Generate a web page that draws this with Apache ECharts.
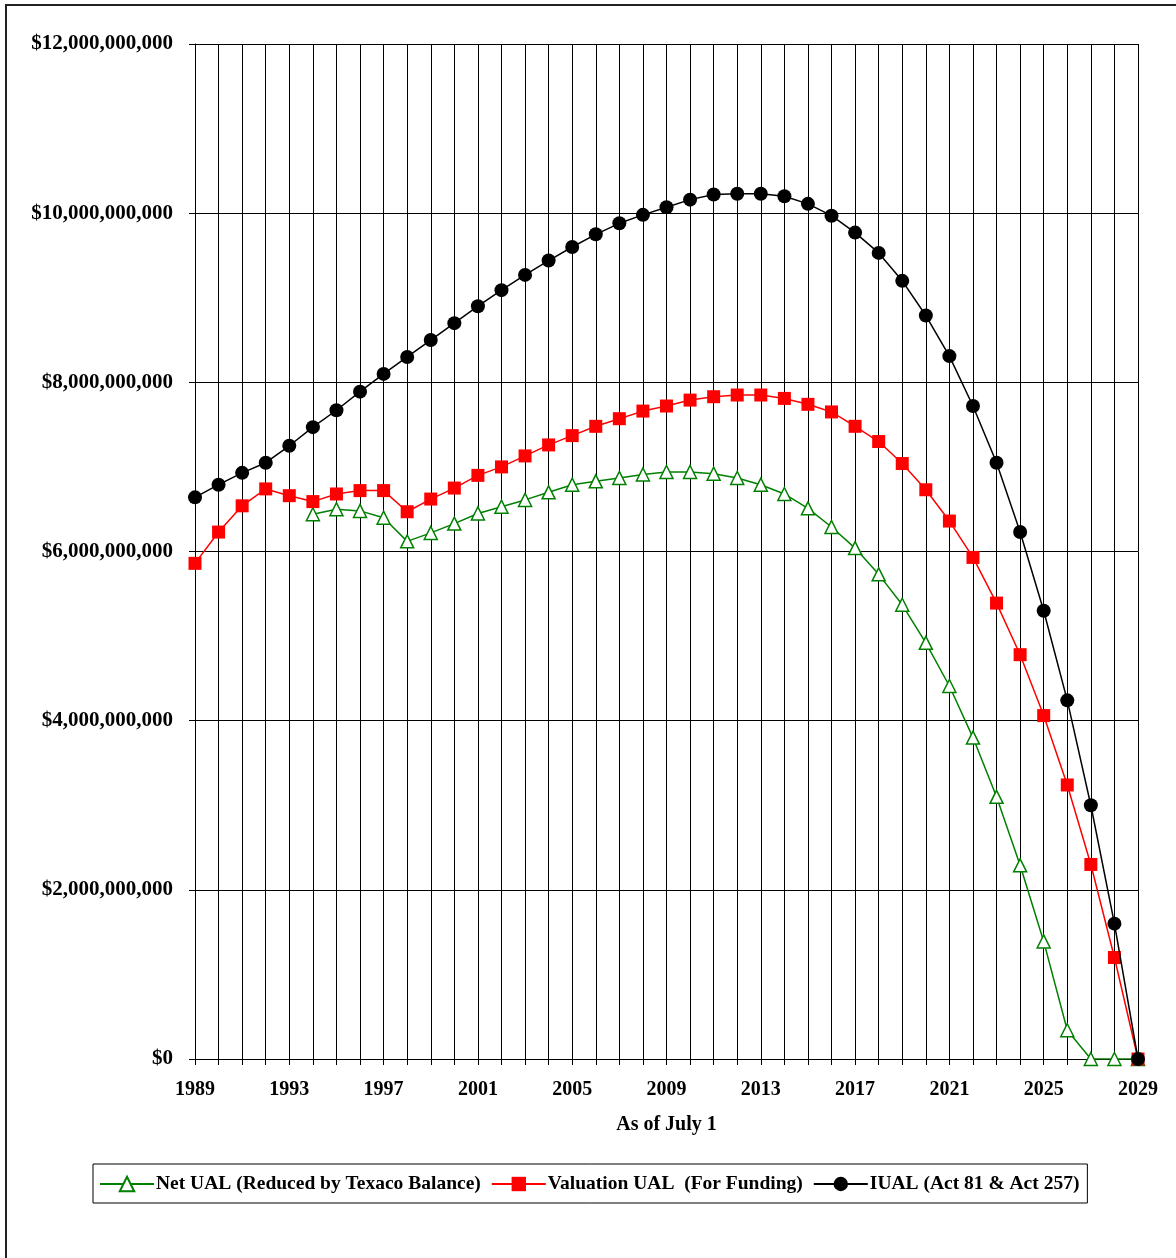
<!DOCTYPE html>
<html>
<head>
<meta charset="utf-8">
<script src="https://cdn.jsdelivr.net/npm/echarts@6/dist/echarts.min.js"></script>
<style>
html,body{margin:0;padding:0;background:#fff;}
#chart{width:1176px;height:1258px;}
</style>
</head>
<body>
<div id="chart"></div>
<script>
// Years (x categories)
const years = [];
for (let y = 1989; y <= 2029; y++) years.push(String(y));

// Values in billions of dollars
const netUAL = [null, null, null, null, null,
  6.44, 6.50, 6.48, 6.40, 6.12, 6.22, 6.33, 6.45, 6.53, 6.61,
  6.70, 6.79, 6.83, 6.87, 6.91, 6.94, 6.94, 6.92, 6.87, 6.79,
  6.68, 6.51, 6.29, 6.04, 5.73, 5.37, 4.92, 4.41, 3.80, 3.10,
  2.29, 1.39, 0.34, 0, 0, 0];
const valuationUAL = [5.86, 6.23, 6.54, 6.74, 6.66, 6.59, 6.68, 6.72, 6.72, 6.47,
  6.62, 6.75, 6.90, 7.00, 7.13, 7.26, 7.37, 7.48, 7.57, 7.66,
  7.72, 7.79, 7.83, 7.85, 7.85, 7.81, 7.74, 7.65, 7.48, 7.30,
  7.04, 6.73, 6.36, 5.93, 5.39, 4.78, 4.06, 3.24, 2.30, 1.20, 0];
const iual = [6.64, 6.79, 6.93, 7.05, 7.25, 7.47, 7.67, 7.89, 8.10, 8.30,
  8.50, 8.70, 8.90, 9.09, 9.27, 9.44, 9.60, 9.75, 9.88, 9.98,
  10.07, 10.16, 10.22, 10.23, 10.23, 10.20, 10.11, 9.97, 9.77, 9.53,
  9.20, 8.79, 8.31, 7.72, 7.05, 6.23, 5.30, 4.24, 3.00, 1.60, 0];

const seriesNames = ['Net UAL (Reduced by Texaco Balance)', 'Valuation UAL  (For Funding)', 'IUAL (Act 81 & Act 257)'];
const xAxisTitle = 'As of July 1';

const toDollars = arr => arr.map(v => v === null ? null : v * 1e9);
const fmtDollar = v => '$' + Math.round(v).toString().replace(/\B(?=(\d{3})+(?!\d))/g, ',');

const FONT = '"Liberation Serif", "Times New Roman", serif';
const chart = echarts.init(document.getElementById('chart'));
chart.setOption({
  animation: false,
  backgroundColor: '#fff',
  textStyle: { fontFamily: FONT },
  grid: { left: 195, right: 38, top: 44, bottom: 199, containLabel: false },
  xAxis: {
    type: 'category',
    data: years,
    boundaryGap: false,
    name: xAxisTitle,
    nameLocation: 'middle',
    nameGap: 56,
    nameTextStyle: { fontFamily: FONT, fontWeight: 'bold', fontSize: 20, color: '#000' },
    axisLine: { show: true, lineStyle: { color: '#000', width: 1 } },
    axisTick: { show: true, interval: 0, inside: false, length: 6, lineStyle: { color: '#000' } },
    axisLabel: { interval: 3, margin: 21, fontFamily: FONT, fontWeight: 'bold', fontSize: 20, color: '#000' },
    splitLine: { show: true, interval: 0, lineStyle: { color: '#000', width: 1 } }
  },
  yAxis: {
    type: 'value',
    min: 0,
    max: 12e9,
    interval: 2e9,
    axisLine: { show: true, lineStyle: { color: '#000', width: 1 } },
    axisTick: { show: true, length: 6, lineStyle: { color: '#000' } },
    axisLabel: { margin: 22, fontFamily: FONT, fontWeight: 'bold', fontSize: 21, color: '#000', formatter: fmtDollar },
    splitLine: { show: true, lineStyle: { color: '#000', width: 1 } }
  },
  legend: {
    left: 93,
    top: 1164,
    padding: [10, 8, 9, 6],
    itemGap: 10,
    itemWidth: 54,
    itemHeight: 18,
    borderColor: '#000',
    borderWidth: 1,
    textStyle: { fontFamily: FONT, fontWeight: 'bold', fontSize: 19.5, color: '#000', padding: [0, 0, 0, -3] },
    data: seriesNames
  },
  series: [
    {
      name: seriesNames[0], type: 'line', data: toDollars(netUAL),
      symbol: 'triangle', symbolSize: 13, showAllSymbol: true,
      lineStyle: { color: '#008000', width: 1.5 },
      itemStyle: { color: '#fff', borderColor: '#008000', borderWidth: 1.5 },
      z: 2
    },
    {
      name: seriesNames[1], type: 'line', data: toDollars(valuationUAL),
      symbol: 'rect', symbolSize: 13, showAllSymbol: true,
      lineStyle: { color: '#ff0000', width: 1.5 },
      itemStyle: { color: '#ff0000', borderColor: '#ff0000', borderWidth: 0 },
      z: 3
    },
    {
      name: seriesNames[2], type: 'line', data: toDollars(iual),
      symbol: 'circle', symbolSize: 14, showAllSymbol: true,
      lineStyle: { color: '#000', width: 1.5 },
      itemStyle: { color: '#000', borderColor: '#000', borderWidth: 0 },
      z: 4
    }
  ],
  graphic: [
    { type: 'line', shape: { x1: 5, y1: 5, x2: 1176, y2: 5 }, style: { stroke: '#222', lineWidth: 2 }, silent: true },
    { type: 'line', shape: { x1: 6, y1: 5, x2: 6, y2: 1258 }, style: { stroke: '#222', lineWidth: 2 }, silent: true }
  ]
});
</script>
</body>
</html>
